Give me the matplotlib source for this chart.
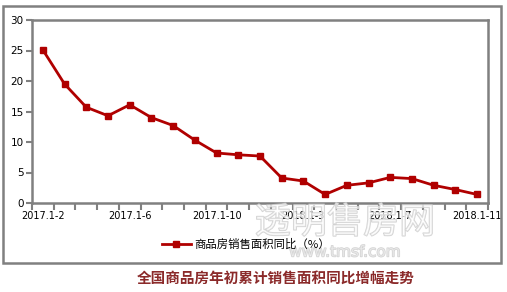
import matplotlib.pyplot as plt
import matplotlib.patheffects as pe
from matplotlib.patches import Rectangle

plt.rcParams['font.family'] = ['Noto Sans CJK SC', 'DejaVu Sans']

# 数据
months = ['2017.1-2', '2017.1-3', '2017.1-4', '2017.1-5', '2017.1-6', '2017.1-7',
          '2017.1-8', '2017.1-9', '2017.1-10', '2017.1-11', '2017.1-12',
          '2018.1-2', '2018.1-3', '2018.1-4', '2018.1-5', '2018.1-6', '2018.1-7',
          '2018.1-8', '2018.1-9', '2018.1-10', '2018.1-11']
area_yoy = [25.1, 19.5, 15.7, 14.3, 16.1, 14.0, 12.7, 10.3, 8.2, 7.9, 7.7,
            4.1, 3.6, 1.4, 2.9, 3.3, 4.2, 4.0, 2.9, 2.2, 1.4]
series_name = '商品房销售面积同比（%）'
title = '全国商品房年初累计销售面积同比增幅走势'

gray = '#808080'
red = '#b00000'

fig = plt.figure(figsize=(5.07, 2.92), dpi=100)
# outer frame
fig.patches.append(Rectangle((3 / 507, 1 - 263 / 292), 498 / 507, 257 / 292,
                             transform=fig.transFigure, fill=False,
                             edgecolor=gray, linewidth=1.8))

ax = fig.add_axes([32 / 507, 1 - 203 / 292, 456 / 507, 183 / 292])
x = list(range(len(months)))
line, = ax.plot(x, area_yoy, color=red, linewidth=2.0, marker='s', markersize=4.5,
                markeredgecolor=red, markerfacecolor=red, label=series_name)

ax.set_xlim(-0.5, len(months) - 0.5)
ax.set_ylim(0, 30)
ax.set_yticks(range(0, 31, 5))
ax.set_xticks(x[::4])
ax.set_xticklabels(months[::4], fontsize=7, family='DejaVu Sans')
ax.set_xticks([i - 0.5 for i in range(len(months) + 1)], minor=True)
ax.tick_params(axis='x', which='major', length=0, pad=6)
ax.tick_params(axis='x', which='minor', length=5, width=1.5, color=gray, direction='out')
ax.tick_params(axis='y', length=4, width=1.5, color=gray, labelsize=7.5, pad=2)
for lab in ax.get_yticklabels():
    lab.set_family('DejaVu Sans')
for s in ax.spines.values():
    s.set_color(gray)
    s.set_linewidth(1.8)

fig.legend(handles=[line], labels=[series_name], loc='center',
           bbox_to_anchor=(246 / 507, 1 - 244 / 292), frameon=False,
           fontsize=8.2, handlelength=2.5, handletextpad=0.3)

fig.text(276 / 507, 1 - 278 / 292, title, ha='center', va='center',
         fontsize=10.5, fontweight='bold', color='#8b2a2a')

# 水印
wm = [pe.withStroke(linewidth=1.0, foreground=(0.78, 0.78, 0.78, 0.8))]
fig.text(345 / 507, 1 - 223 / 292, '透明售房网', ha='center', va='center',
         fontsize=26, color=(1, 1, 1, 0.45), path_effects=wm)
fig.text(345 / 507, 1 - 252 / 292, 'www.tmsf.com', ha='center', va='center',
         fontsize=11, color=(1, 1, 1, 0.45), family='DejaVu Sans',
         path_effects=wm)

fig.savefig('out.png', dpi=100)
